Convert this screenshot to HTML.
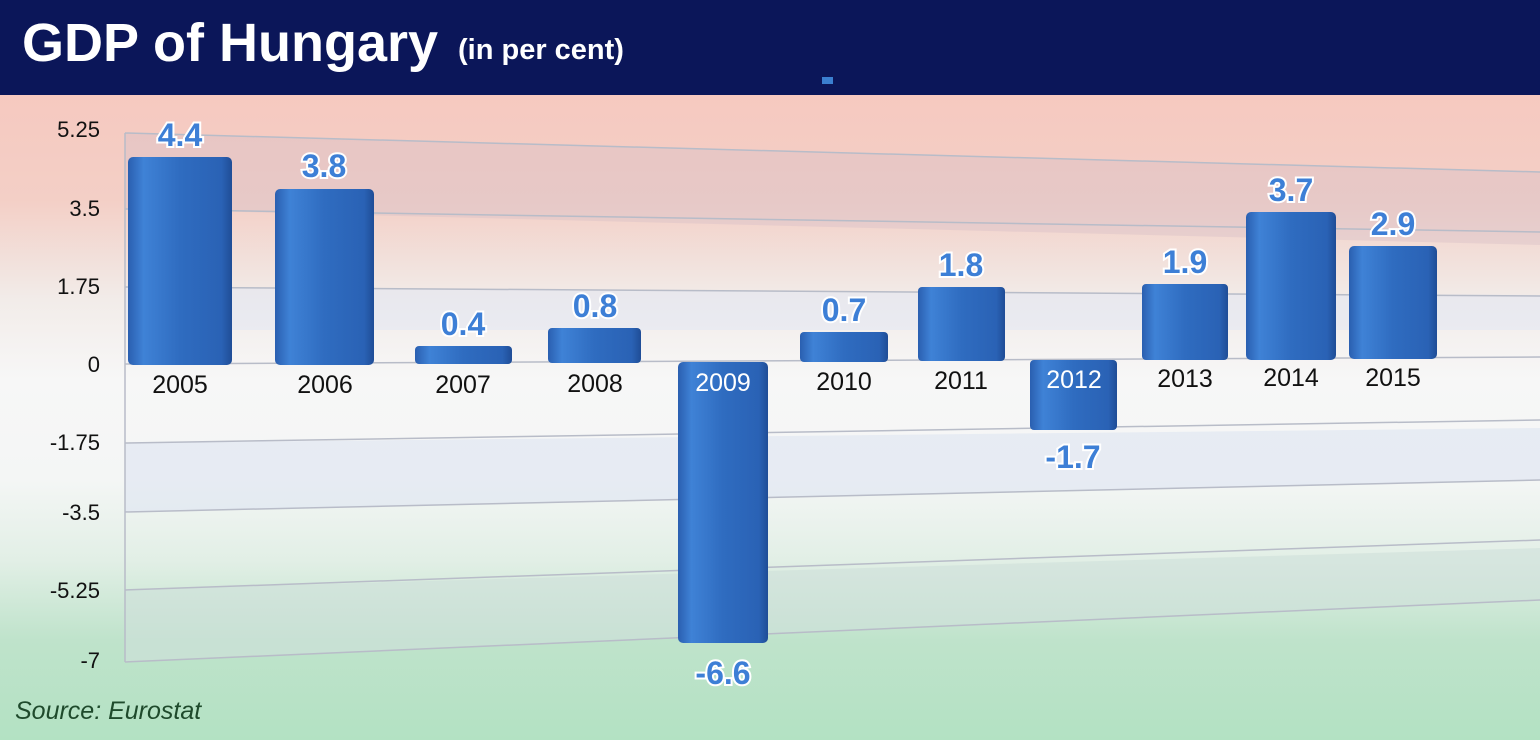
<!DOCTYPE html>
<html><head><meta charset="utf-8"><style>
html,body{margin:0;padding:0}
body{width:1540px;height:740px;overflow:hidden;position:relative;font-family:"Liberation Sans",sans-serif;
background:linear-gradient(180deg,#f6c9c0 95px,#f3cfc6 200px,#f2ece9 300px,#f7f7f7 380px,#f4f6f5 480px,#e2efe6 560px,#bfe3cb 640px,#b3e2c3 740px);}
.hdr{position:absolute;left:0;top:0;width:1540px;height:95px;background:#0b1659;}
.t1{position:absolute;left:22px;top:12px;color:#fff;font-weight:bold;font-size:54px;letter-spacing:0px}
.t2{position:absolute;left:458px;top:34px;color:#fff;font-weight:bold;font-size:29px}
.yl{position:absolute;left:0;width:100px;text-align:right;font-size:22px;color:#111}
.src{position:absolute;left:15px;top:697px;font-style:italic;font-size:25px;color:#1f4a2c}
</style></head><body>
<div class="hdr"></div>
<div class="t1">GDP of Hungary</div>
<div class="t2">(in per cent)</div>
<div style="position:absolute;left:822px;top:77px;width:11px;height:7px;background:#3b7fd0"></div>
<svg width="1540" height="740" style="position:absolute;left:0;top:0">
<defs>
<linearGradient id="b" x1="0" x2="1" y1="0" y2="0">
<stop offset="0" stop-color="#2a5fb0"/><stop offset="0.15" stop-color="#3f82d6"/><stop offset="0.5" stop-color="#2f6cc0"/><stop offset="0.9" stop-color="#2a62b5"/><stop offset="1" stop-color="#1f4d96"/></linearGradient>
</defs>
<g>
<polygon points="125,287 1540,295 1540,330 125,330" fill="#dfe6f3" opacity="0.5"/>
<polygon points="125,443 1540,428 1540,480 125,512" fill="#dde4f1" opacity="0.6"/>
<polygon points="125,590 1540,548 1540,600 125,662" fill="#cfe0da" opacity="0.6"/>
<polygon points="125,133 1540,172 1540,245 125,209" fill="#d9c0c8" opacity="0.45"/>
</g>
<g stroke="#b8bcc8" stroke-width="1.5" fill="none">
<line x1="125" y1="133" x2="1540" y2="172"/>
<line x1="125" y1="209" x2="1540" y2="232"/>
<line x1="125" y1="287" x2="1540" y2="296"/>
<line x1="125" y1="364" x2="1540" y2="357"/>
<line x1="125" y1="443" x2="1540" y2="420"/>
<line x1="125" y1="512" x2="1540" y2="480"/>
<line x1="125" y1="590" x2="1540" y2="540"/>
<line x1="125" y1="662" x2="1540" y2="600"/>
<line x1="125" y1="133" x2="125" y2="662"/>
</g>
<g fill="url(#b)">
<rect x="128" y="157" width="104" height="208" rx="5"/>
<rect x="275" y="189" width="99" height="176" rx="5"/>
<rect x="415" y="346" width="97" height="18" rx="4"/>
<rect x="548" y="328" width="93" height="35" rx="4"/>
<rect x="678" y="362" width="90" height="281" rx="5"/>
<rect x="800" y="332" width="88" height="30" rx="4"/>
<rect x="918" y="287" width="87" height="74" rx="4"/>
<rect x="1030" y="360" width="87" height="70" rx="4"/>
<rect x="1142" y="284" width="86" height="76" rx="4"/>
<rect x="1246" y="212" width="90" height="148" rx="5"/>
<rect x="1349" y="246" width="88" height="113" rx="5"/>
</g>
<g font-family="Liberation Sans, sans-serif" font-size="25" text-anchor="middle" fill="#111">
<text x="180" y="393">2005</text><text x="325" y="393">2006</text><text x="463" y="393">2007</text>
<text x="595" y="392">2008</text><text x="723" y="391" fill="#fff">2009</text><text x="844" y="390">2010</text>
<text x="961" y="389">2011</text><text x="1074" y="388" fill="#fff">2012</text><text x="1185" y="387">2013</text>
<text x="1291" y="386">2014</text><text x="1393" y="386">2015</text>
</g>
<g font-family="Liberation Sans, sans-serif" font-size="32" font-weight="bold" text-anchor="middle" fill="#3d7fd6" stroke="#fff" stroke-width="4" paint-order="stroke">
<text x="180" y="146">4.4</text><text x="324" y="177">3.8</text><text x="463" y="335">0.4</text>
<text x="595" y="317">0.8</text><text x="723" y="684">-6.6</text><text x="844" y="321">0.7</text>
<text x="961" y="276">1.8</text><text x="1073" y="468">-1.7</text><text x="1185" y="273">1.9</text>
<text x="1291" y="201">3.7</text><text x="1393" y="235">2.9</text>
</g>
</svg>
<div class="yl" style="top:117px">5.25</div>
<div class="yl" style="top:196px">3.5</div>
<div class="yl" style="top:274px">1.75</div>
<div class="yl" style="top:352px">0</div>
<div class="yl" style="top:430px">-1.75</div>
<div class="yl" style="top:500px">-3.5</div>
<div class="yl" style="top:578px">-5.25</div>
<div class="yl" style="top:648px">-7</div>
<div class="src">Source: Eurostat</div>
</body></html>
